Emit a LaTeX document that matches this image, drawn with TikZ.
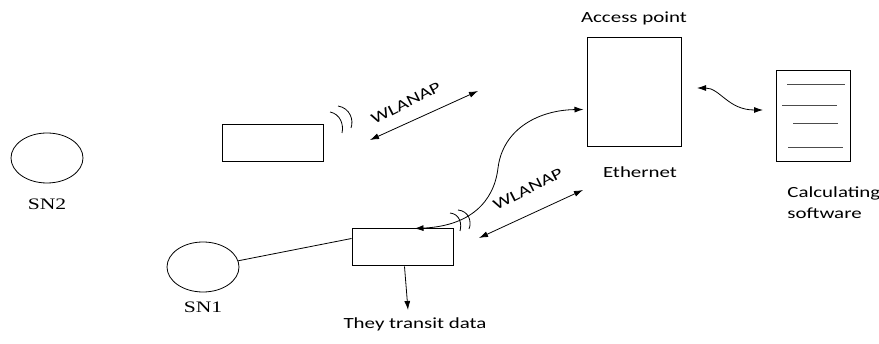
\documentclass[tikz,border=0pt]{standalone}
\usepackage{fontspec}
\usetikzlibrary{shapes.geometric,arrows.meta}
\newfontfamily\calfont[FakeStretch=1.35]{Carlito}
\newfontfamily\snfont[FakeStretch=1.35]{Liberation Serif}
\tikzset{
  box/.style={draw,line width=1pt,inner sep=0pt},
  sn/.style={draw,ellipse,minimum width=72pt,minimum height=50pt,inner sep=0pt},
  lbl/.style={font=\calfont\fontsize{15.5}{21}\selectfont,inner sep=0pt,anchor=base},
  snlbl/.style={font=\snfont\fontsize{16}{20}\selectfont,inner sep=0pt,anchor=base}
}
\begin{document}
\begin{tikzpicture}[x=1pt,y=-1pt,line width=0.8pt,>={Latex[length=9pt,width=6pt]}]
\useasboundingbox (0,0) rectangle (879,344);
\node[sn] (sn2) at (47,158) {};
\node[sn] (sn1) at (203,267) {};
\node[snlbl] (sn2lbl) at (47,210) {SN2};
\node[snlbl] (sn1lbl) at (203,313) {SN1};
\node[box,minimum width=101pt,minimum height=37pt] (rx) at (272.5,143.5) {};
\node[box,minimum width=101pt,minimum height=37pt] (tx) at (402.5,247.5) {};
\node[box,minimum width=94pt,minimum height=109pt] (ap) at (634,92.5) {};
\node[box,minimum width=74pt,minimum height=91pt] (soft) at (813,116.5) {};
\draw[gray!60!black] (787,84) -- (845,84);
\draw[gray!60!black] (782,105) -- (837,105);
\draw[gray!60!black] (793,123) -- (838,123);
\draw[gray!60!black] (788,147) -- (843,147);
\node[lbl] (aplbl) at (634,23) {Access point};
\node[lbl] (ethlbl) at (640,178) {Ethernet};
\node[lbl] (datalbl) at (415,329) {They transit data};
\node[lbl,align=left,anchor=base west] (softlbl) at (787,219) {Calculating\\software};
\node[lbl,rotate=27,anchor=center] (wl1) at (406,103) {WLANAP};
\node[lbl,rotate=27,anchor=center] (wl2) at (528,189) {WLANAP};
\draw (sn1.10) -- (tx.170);
\coordinate (down) at (408,310);
\draw[->] ([xshift=2pt]tx.south) -- (down);
\coordinate (w1a) at (370,140);
\coordinate (w1b) at (478,91);
\draw[<->] (w1a) -- (w1b);
\coordinate (w2a) at (479,238);
\coordinate (w2b) at (583,190);
\draw[<->] (w2a) -- (w2b);
\draw[<->] ([xshift=12pt]tx.north) .. controls (470,226) and (494,202) .. (498,168) .. controls (503,128) and (540,110) .. ([xshift=-3pt,yshift=-17pt]ap.west);
\coordinate (e1) at (697,88);
\coordinate (e2) at (763,110);
\draw[<->] (e1) .. controls (720,88) and (728,110) .. (e2);
\draw (330,112) .. controls (340,114) and (344,124) .. (342,133);
\draw (338,106) .. controls (350,108) and (354,120) .. (351,128);
\draw (450,213) .. controls (460,214) and (462,224) .. (460,231);
\draw (458,210) .. controls (469,211) and (472,222) .. (469,229);
\end{tikzpicture}
\end{document}
